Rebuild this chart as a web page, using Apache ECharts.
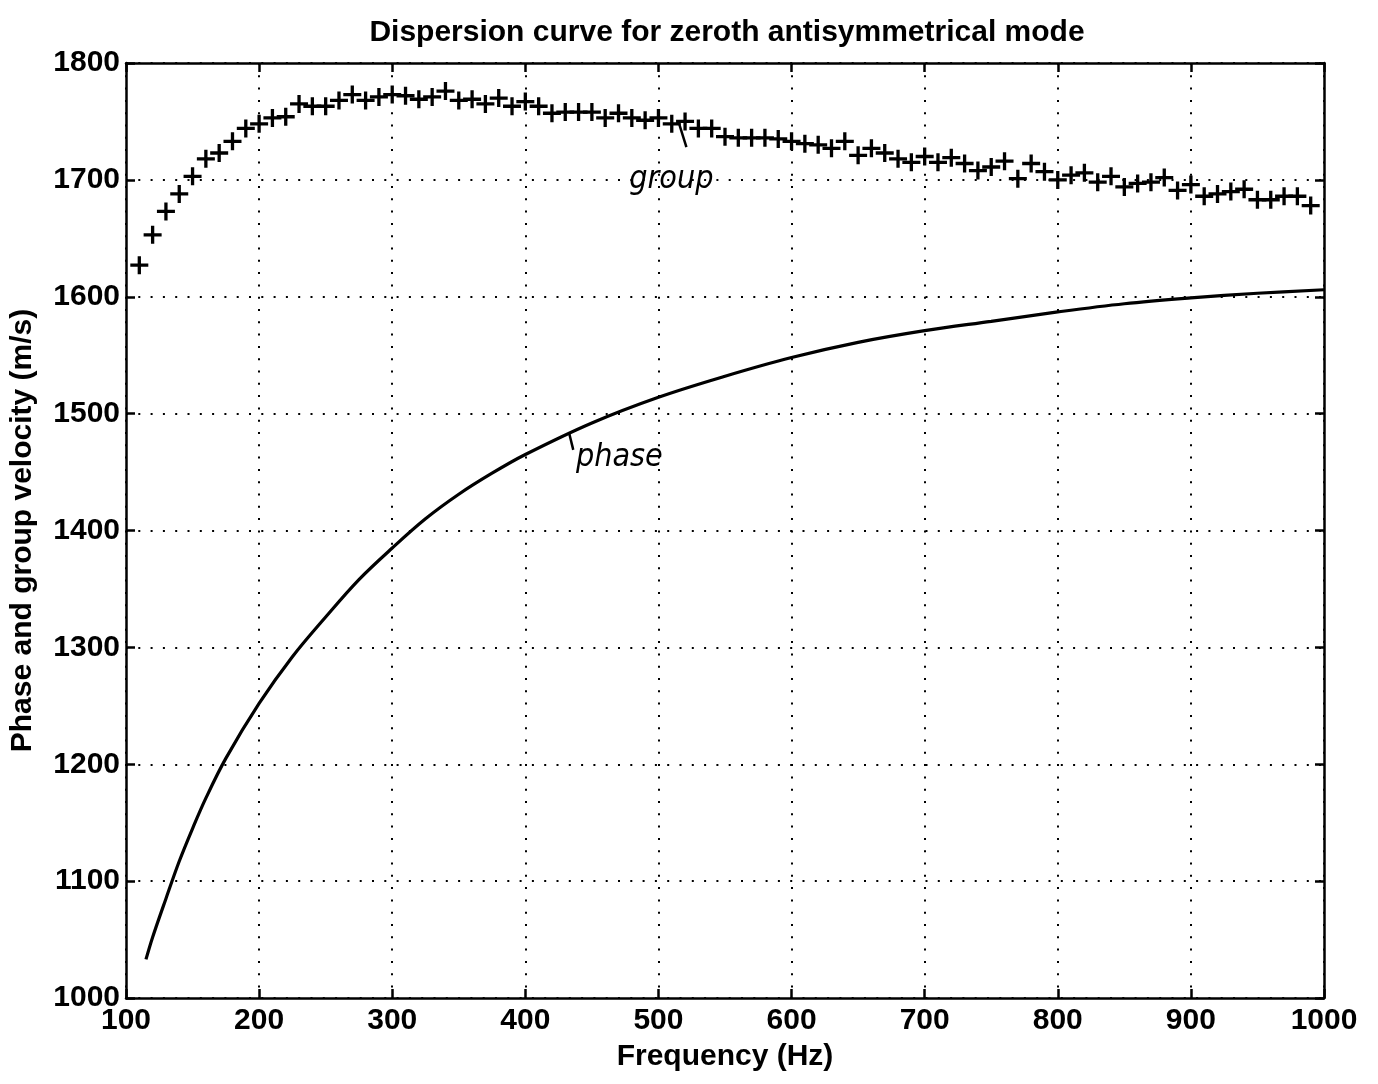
<!DOCTYPE html>
<html>
<head>
<meta charset="utf-8">
<script src="https://cdn.jsdelivr.net/npm/echarts@6/dist/echarts.min.js"></script>
<style>
html,body{margin:0;padding:0;background:#fff;}
#chart{width:1378px;height:1084px;}
</style>
</head>
<body>
<div id="chart"></div>
<script>
// Group velocity samples (Hz, m/s)
const groupFreq = [110,120,130,140,150,160,170,180,190,200,210,220,230,240,250,260,270,280,290,300,
  310,320,330,340,350,360,370,380,390,400,410,420,430,440,450,460,470,480,490,500,
  510,520,530,540,550,560,570,580,590,600,610,620,630,640,650,660,670,680,690,700,
  710,720,730,740,750,760,770,780,790,800,810,820,830,840,850,860,870,880,890,900,
  910,920,930,940,950,960,970,980,990];
const groupVel = [1627,1653,1673,1688,1703,1718,1723,1733,1744,1748,1753,1754,1765,1763,1763,1768,1773,1768,1771,1773,
  1772,1769,1771,1776,1768,1769,1765,1770,1763,1767,1763,1757,1758,1758,1758,1753,1757,1753,1751,1753,
  1748,1750,1744,1744,1737,1736,1736,1736,1735,1733,1731,1730,1727,1733,1721,1727,1723,1718,1715,1720,
  1715,1719,1714,1708,1711,1716,1701,1714,1707,1700,1704,1706,1698,1703,1694,1697,1698,1702,1691,1696,
  1686,1688,1690,1692,1683,1683,1686,1686,1678];
// Phase velocity curve (Hz, m/s)
const phaseFreq = [115,120,130,140,150,160,175,200,225,250,275,300,325,350,375,400,450,500,550,600,650,700,750,800,850,900,950,1000];
const phaseVel  = [1033,1052,1085,1117,1145,1171,1205,1252,1292,1326,1358,1385,1410,1431,1449,1465,1492,1514,1532,1548,1561,1571,1579,1587,1594,1599,1603,1606];
const xTicks = [100,200,300,400,500,600,700,800,900,1000];
const yTicks = [1000,1100,1200,1300,1400,1500,1600,1700,1800];
// Hand-written annotations: label, text anchor (Hz, m/s), leader from, leader to
const annoLabels = ['group','phase'];
const annoText = [[478,1700],[438,1462]];
const annoLeaderFrom = [[515,1750],[433,1483]];
const annoLeaderTo = [[521,1728],[436,1469]];

const chart = echarts.init(document.getElementById('chart'), null, {renderer:'canvas'});
const FONT = '"Liberation Sans", Arial, Helvetica, sans-serif';
const plusPath = 'path://M7.35,0H10.65V7.35H18V10.65H10.65V18H7.35V10.65H0V7.35H7.35Z';

const gridLine = {show:true, lineStyle:{color:'#000', width:2, type:[2,10.3]}};
const axLine = {show:true, onZero:false, lineStyle:{color:'#000', width:2.5}};
const tick = {show:true, inside:true, length:9, lineStyle:{color:'#000', width:2.5}};

const option = {
  backgroundColor:'#fff',
  animation:false,
  title:{
    text:'Dispersion curve for zeroth antisymmetrical mode',
    left:722, top:13, textAlign:'center',
    textStyle:{fontFamily:FONT, fontSize:30, fontWeight:'bold', color:'#000'}
  },
  grid:{left:125, right:54, top:63, bottom:86, containLabel:false},
  xAxis:[{
    type:'value', min:100, max:1000, interval:100,
    name:'Frequency (Hz)', nameLocation:'middle', nameGap:44,
    nameTextStyle:{fontFamily:FONT, fontSize:30, fontWeight:'bold', color:'#000'},
    axisLine:axLine, axisTick:tick,
    axisLabel:{fontFamily:FONT, fontSize:30, fontWeight:'bold', color:'#000', margin:8,
      formatter:v=>xTicks.includes(v)?String(v):''},
    splitLine:gridLine
  },{
    type:'value', min:100, max:1000, interval:100, position:'top',
    axisLine:axLine, axisTick:tick,
    axisLabel:{show:false}, splitLine:{show:false}
  }],
  yAxis:[{
    type:'value', min:1000, max:1800, interval:100,
    name:'Phase and group velocity (m/s)', nameLocation:'middle', nameGap:88,
    nameTextStyle:{fontFamily:FONT, fontSize:30, fontWeight:'bold', color:'#000'},
    axisLine:axLine, axisTick:tick,
    axisLabel:{fontFamily:FONT, fontSize:30, fontWeight:'bold', color:'#000', margin:6,
      formatter:v=>yTicks.includes(v)?String(v):''},
    splitLine:gridLine
  },{
    type:'value', min:1000, max:1800, interval:100, position:'right',
    axisLine:axLine, axisTick:tick,
    axisLabel:{show:false}, splitLine:{show:false}
  }],
  series:[{
    name:'phase', type:'line', smooth:0.35, showSymbol:false, symbol:'none',
    data:phaseFreq.map((f,i)=>[f,phaseVel[i]]),
    lineStyle:{color:'#000', width:3.2}, z:3
  },{
    name:'group', type:'scatter', symbol:plusPath, symbolSize:18,
    data:groupFreq.map((f,i)=>[f,groupVel[i]]),
    itemStyle:{color:'#000', opacity:1}, z:4
  }]
};
chart.setOption(option);

// annotations positioned in data coordinates
const gr = [];
annoLabels.forEach((t,i)=>{
  const p = chart.convertToPixel({xAxisIndex:0,yAxisIndex:0}, annoText[i]);
  const a = chart.convertToPixel({xAxisIndex:0,yAxisIndex:0}, annoLeaderFrom[i]);
  const b = chart.convertToPixel({xAxisIndex:0,yAxisIndex:0}, annoLeaderTo[i]);
  gr.push({type:'text', x:p[0], y:p[1], style:{text:t, fill:'#000',
    font:'italic 32px "DejaVu Sans Condensed", "DejaVu Sans", sans-serif', textAlign:'left', textVerticalAlign:'middle'}});
  gr.push({type:'line', shape:{x1:a[0],y1:a[1],x2:b[0],y2:b[1]}, style:{stroke:'#000', lineWidth:2.5}});
});
chart.setOption({graphic:gr});
</script>
</body>
</html>
